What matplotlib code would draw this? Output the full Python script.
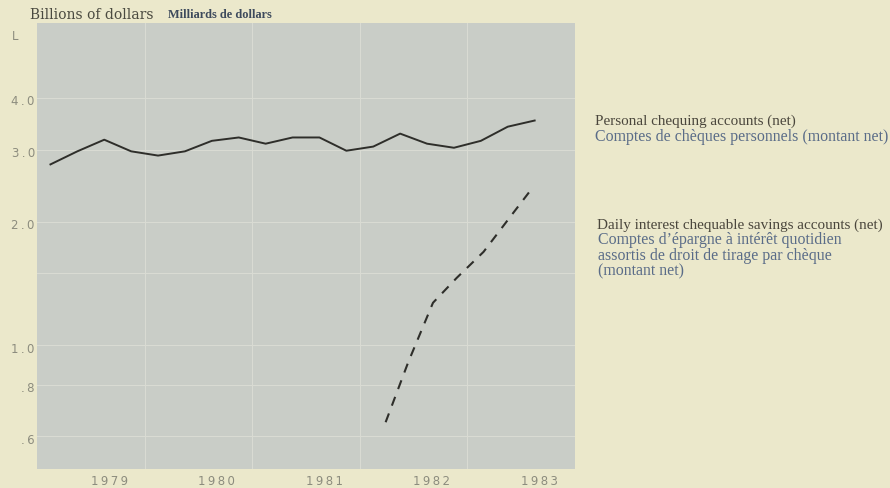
import numpy as np
import matplotlib.pyplot as plt
from matplotlib.ticker import NullLocator

# Quarterly balances, billions of dollars (log scale)
chequing_t = 1979.125 + 0.25 * np.arange(19)
chequing = [2.76, 2.97, 3.17, 2.97, 2.90, 2.97, 3.15, 3.21, 3.10, 3.21,
            3.21, 2.98, 3.05, 3.28, 3.10, 3.03, 3.15, 3.41, 3.53]

savings_t = [1982.24, 1982.45, 1982.68, 1982.90, 1983.15, 1983.40, 1983.61]
savings = [0.65, 0.91, 1.27, 1.46, 1.69, 2.06, 2.43]

years = [1979, 1980, 1981, 1982, 1983]
y_ticks = [0.6, 0.8, 1.0, 1.5, 2.0, 3.0, 4.0]
y_labels = {0.6: ".6", 0.8: ".8", 1.0: "1.0", 2.0: "2.0", 3.0: "3.0", 4.0: "4.0"}

page = "#ebe8cb"
face = "#c9cdc7"
grey = "#8c8c7e"

fig = plt.figure(figsize=(8.9, 4.89), dpi=100, facecolor=page)
ax = fig.add_axes([37 / 890, 19 / 489, 538 / 890, 446 / 489])
ax.set_facecolor(face)

ax.plot(chequing_t, chequing, color="#2e2e2a", lw=1.4)
ax.plot(savings_t, savings, color="#2e2e2a", lw=1.5, dashes=(4.5, 4))

ax.set_yscale("log")
ax.set_ylim(0.5, 6.1)
ax.set_xlim(1979, 1984)

# faint white grid at year boundaries and ratio-scale levels
for yr in years[1:]:
    ax.axvline(yr, color="#d9dbd3", lw=0.8, zorder=0)
for v in y_ticks:
    ax.axhline(v, color="#d9dbd3", lw=0.8, zorder=0)

ax.yaxis.set_major_locator(NullLocator())
ax.yaxis.set_minor_locator(NullLocator())
ax.set_xticks([])
for v, s in y_labels.items():
    ax.text(-0.004, v * 0.985, "\u2009".join(s), transform=ax.get_yaxis_transform(),
            ha="right", va="center", fontsize=8.5, color=grey, family="DejaVu Sans")
for yr in years:
    ax.text(yr + 0.67, -0.012, "\u2009".join(str(yr)),
            transform=ax.get_xaxis_transform(), ha="center", va="top",
            fontsize=8.5, color=grey, family="DejaVu Sans")

for sp in ax.spines.values():
    sp.set_visible(False)

fig.text(12 / 890, 1 - 36 / 489, "L", fontsize=8.5, color=grey,
         family="DejaVu Sans", va="center")

fig.text(30 / 890, 1 - 15 / 489, "Billions of dollars", fontsize=10,
         color="#4a4a40", family="DejaVu Serif", va="center")
fig.text(168 / 890, 1 - 15 / 489, "Milliards de dollars", fontsize=8.8,
         color="#3d4a5c", family="Liberation Serif", weight="bold", va="center")

dark = "#4a463c"
blue = "#5a6c88"
lines = [
    (595, 121, "Personal chequing accounts (net)", dark, 10.9),
    (595, 137, "Comptes de chèques personnels (montant net)", blue, 11.4),
    (597, 225, "Daily interest chequable savings accounts (net)", dark, 10.9),
    (598, 240, "Comptes d\u2019épargne à intérêt quotidien", blue, 11.4),
    (598, 256, "assortis de droit de tirage par chèque", blue, 11.4),
    (598, 271, "(montant net)", blue, 11.4),
]
for x, y, s, c, fs in lines:
    fig.text(x / 890, 1 - y / 489, s, fontsize=fs, color=c,
             family="Liberation Serif", va="center")

fig.savefig("out.png", dpi=100, facecolor=page)
